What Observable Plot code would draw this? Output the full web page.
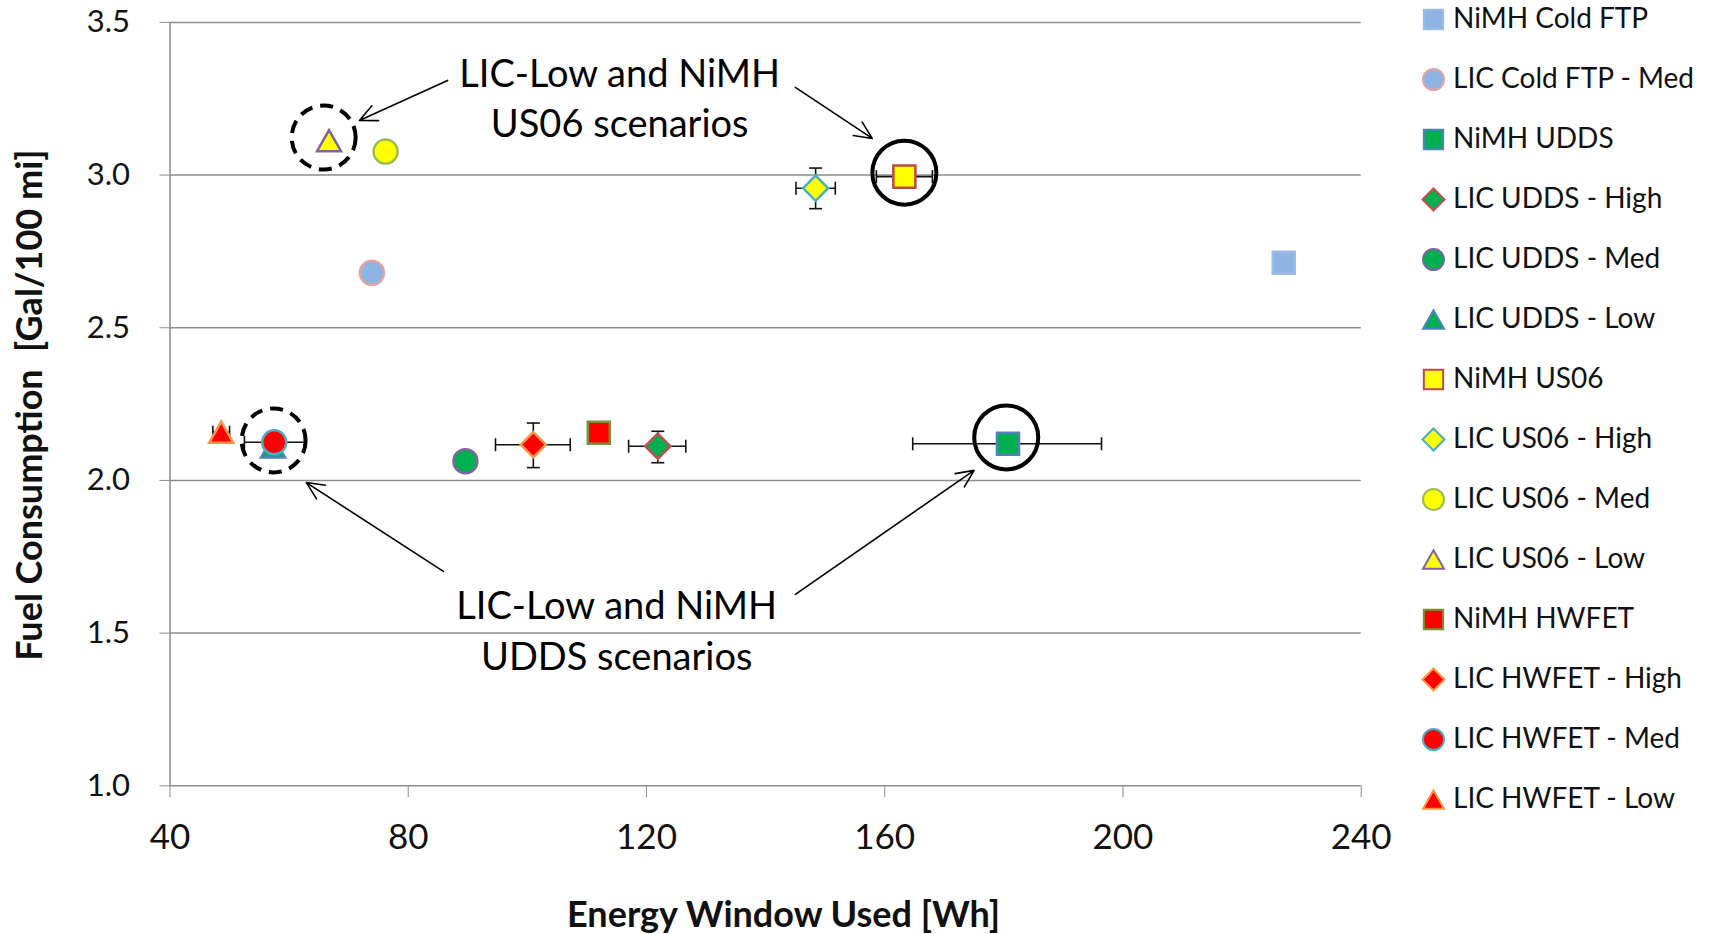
<!DOCTYPE html>
<html><head><meta charset="utf-8">
<script src="https://cdn.jsdelivr.net/npm/d3@7"></script>
<script src="https://cdn.jsdelivr.net/npm/@observablehq/plot@0.6"></script>
<style>
body{margin:0;background:#fff;}
#wrap{position:relative;width:1715px;height:934px;font-family:Lato,"Open Sans",sans-serif;}
#chart{position:absolute;left:0;top:0;width:1715px;height:934px;}
#legend{position:absolute;left:1400px;top:0;width:315px;height:830px;}
#wrap svg{display:block;max-width:none !important;}
</style></head><body><div id="wrap"><div id="chart"></div><div id="legend"></div></div>
<script>
// ---- data ----
const seriesNames = ["NiMH Cold FTP","LIC Cold FTP - Med","NiMH UDDS","LIC UDDS - High","LIC UDDS - Med","LIC UDDS - Low","NiMH US06","LIC US06 - High","LIC US06 - Med","LIC US06 - Low","NiMH HWFET","LIC HWFET - High","LIC HWFET - Med","LIC HWFET - Low"];
const energyWh = [227, 73.9, 180.7, 121.9, 89.6, 57.3, 163.3, 148.4, 76.2, 66.7, 112, 101, 57.5, 48.6];
const fuelGal = [2.713, 2.68, 2.12, 2.112, 2.063, 2.11, 2.995, 2.957, 3.077, 3.113, 2.156, 2.117, 2.125, 2.158];
const xErrLow  = [null, null, 164.7, 117.0, null, null, 158.6, 145.1, null, null, null, 94.65, 52.5, 47.2];
const xErrHigh = [null, null, 196.4, 126.6, null, null, 168.0, 151.7, null, null, null, 107.2, 62.6, 50.0];
const yErrLow  = [null, null, null, 2.058, null, null, null, 2.89, null, null, null, 2.042, null, null];
const yErrHigh = [null, null, null, 2.161, null, null, null, 3.023, null, null, null, 2.188, null, null];
const markerShapes = ["square","circle","square","diamond","circle","triangle","square","diamond","circle","triangle","square","diamond","circle","triangle"];
const fillColors = ["#8EB4E3","#8EB4E3","#00B050","#00B050","#00B050","#00B050","#FFFF00","#FFFF00","#FFFF00","#FFFF00","#FF0000","#FF0000","#FF0000","#FF0000"];
const strokeColors = ["#9DBCE4","#E2A3A1","#4F81BD","#C0504D","#8064A2","#4F81BD","#B84B48","#4BACC6","#9BBB59","#8064A2","#77933C","#F79646","#4BACC6","#F79646"];
const xTicks = [40, 80, 120, 160, 200, 240];
const yTicks = [1.0, 1.5, 2.0, 2.5, 3.0, 3.5];
// annotations
const circleX = [65.8, 57.4, 163.3, 180.4];
const circleY = [3.123, 2.131, 3.008, 2.141];
const circleDashed = [true, true, false, false];
const arrowX1 = [86.6, 145.0, 85.9, 145.0];
const arrowY1 = [3.310, 3.287, 1.702, 1.627];
const arrowX2 = [71.8, 157.9, 62.9, 175.0];
const arrowY2 = [3.179, 3.120, 1.993, 2.033];
const noteText = ["LIC-Low and NiMH\nUS06 scenarios", "LIC-Low and NiMH\nUDDS scenarios"];
const noteX = [115.5, 115.0];
const noteY = [3.260, 1.516];
const xTitle = "Energy Window Used [Wh]";
const yTitle = "Fuel Consumption  [Gal/100 mi]";

// ---- build ----
const rows = seriesNames.map((name, i) => ({
  name, x: energyWh[i], y: fuelGal[i], sym: markerShapes[i], fill: fillColors[i], stroke: strokeColors[i],
  xlo: xErrLow[i], xhi: xErrHigh[i], ylo: yErrLow[i], yhi: yErrHigh[i]
}));
const shapeSym = {
  square: {draw(c, size){const r = Math.sqrt(size/Math.PI), a = r*0.92; c.moveTo(-a,-a); c.lineTo(a,-a); c.lineTo(a,a); c.lineTo(-a,a); c.closePath();}},
  circle: {draw(c, size){const r = Math.sqrt(size/Math.PI); c.moveTo(r,0); c.arc(0,0,r,0,2*Math.PI);}},
  diamond: {draw(c, size){const r = Math.sqrt(size/Math.PI)*1.05; c.moveTo(0,-r); c.lineTo(r,0); c.lineTo(0,r); c.lineTo(-r,0); c.closePath();}},
  triangle: {draw(c, size){const r = Math.sqrt(size/Math.PI), hw = r*1.0, hh = r*0.88; c.moveTo(0,-hh); c.lineTo(hw,hh); c.lineTo(-hw,hh); c.closePath();}}
};
const vCap = {draw(c, size){const h = Math.sqrt(size/Math.PI); c.moveTo(0,-h); c.lineTo(0,h);}};
const hCap = {draw(c, size){const h = Math.sqrt(size/Math.PI); c.moveTo(-h,0); c.lineTo(h,0);}};

const xe = rows.filter(d => d.xlo != null);
const ye = rows.filter(d => d.ylo != null);
const xCaps = xe.flatMap(d => [{x: d.xlo, y: d.y}, {x: d.xhi, y: d.y}]);
const yCaps = ye.flatMap(d => [{x: d.x, y: d.ylo}, {x: d.x, y: d.yhi}]);
const circles = circleX.map((x, i) => ({x, y: circleY[i], dashed: circleDashed[i]}));
const arrows = arrowX1.map((x1, i) => ({x1, y1: arrowY1[i], x2: arrowX2[i], y2: arrowY2[i]}));
const notes = noteText.map((t, i) => ({t, x: noteX[i], y: noteY[i]}));

const W = 1715, H = 934;
const grid = "#8c8c8c";
const chart = Plot.plot({
  width: W, height: H,
  marginLeft: 169.5, marginRight: W - 1360.7, marginTop: 21.9, marginBottom: H - 785.3,
  style: {fontFamily: "Lato, 'Open Sans', sans-serif", background: "white", overflow: "visible"},
  x: {domain: [40, 240]},
  y: {domain: [1.0, 3.5]},
  marks: [
    Plot.gridY(yTicks, {stroke: grid, strokeOpacity: 1, strokeWidth: 1.5}),
    Plot.ruleX([40], {stroke: grid, strokeWidth: 1.5}),
    Plot.axisY({ticks: yTicks, tickSize: 10, tickPadding: 30, tickFormat: d3.format(".1f"), stroke: grid, fill: "#111", fontSize: 31, label: null}),
    Plot.axisX({ticks: xTicks, tickSize: 12, tickPadding: 26, stroke: grid, fill: "#111", fontSize: 35, label: null}),
    Plot.text([xTitle], {text: d => d, frameAnchor: "bottom", textAnchor: "middle", dx: 18, dy: 141, fontSize: 36, fontWeight: "bold", fill: "#111"}),
    Plot.text([yTitle], {text: d => d, frameAnchor: "left", textAnchor: "middle", rotate: -90, dx: -140, dy: 1, fontSize: 36, fontWeight: "bold", fill: "#111"}),
    // error bars
    Plot.link(xe, {x1: "xlo", x2: "xhi", y1: "y", y2: "y", stroke: "#111", strokeWidth: 1.6}),
    Plot.link(ye, {x1: "x", x2: "x", y1: "ylo", y2: "yhi", stroke: "#111", strokeWidth: 1.6}),
    Plot.dot(xCaps, {x: "x", y: "y", symbol: vCap, r: 6.5, fill: "none", stroke: "#111", strokeWidth: 1.6}),
    Plot.dot(yCaps, {x: "x", y: "y", symbol: hCap, r: 6.5, fill: "none", stroke: "#111", strokeWidth: 1.6}),
    // markers (series order preserved)
    ...rows.map(d => Plot.dot([d], {x: "x", y: "y", symbol: shapeSym[d.sym], r: 12, fill: d.fill, stroke: d.stroke, strokeWidth: 2.5})),
    // annotations
    Plot.dot(circles.filter(d => d.dashed), {x: "x", y: "y", r: 32, fill: "none", stroke: "#000", strokeWidth: 4, strokeDasharray: "13,8"}),
    Plot.dot(circles.filter(d => !d.dashed), {x: "x", y: "y", r: 32, fill: "none", stroke: "#000", strokeWidth: 4}),
    Plot.arrow(arrows, {x1: "x1", y1: "y1", x2: "x2", y2: "y2", stroke: "#000", strokeWidth: 1.6, headLength: 18, headAngle: 50}),
    Plot.text(notes, {x: "x", y: "y", text: "t", fontSize: 38, lineHeight: 1.33, fill: "#000", textAnchor: "middle"})
  ]
});
document.getElementById("chart").appendChild(chart);

const legend = Plot.plot({
  width: 315, height: 830, margin: 0,
  style: {fontFamily: "Lato, 'Open Sans', sans-serif", background: "transparent"},
  y: {type: "point", domain: seriesNames, range: [15.5, 803], padding: 0, axis: null},
  marks: [
    ...rows.map(d => Plot.dot([d], {y: "name", frameAnchor: "left", dx: 33, symbol: shapeSym[d.sym], r: 10.5, fill: d.fill, stroke: d.stroke, strokeWidth: 2})),
    Plot.text(rows, {y: "name", text: "name", frameAnchor: "left", dx: 52.5, textAnchor: "start", fontSize: 28, fill: "#111"})
  ]
});
document.getElementById("legend").appendChild(legend);
</script>
</body></html>
